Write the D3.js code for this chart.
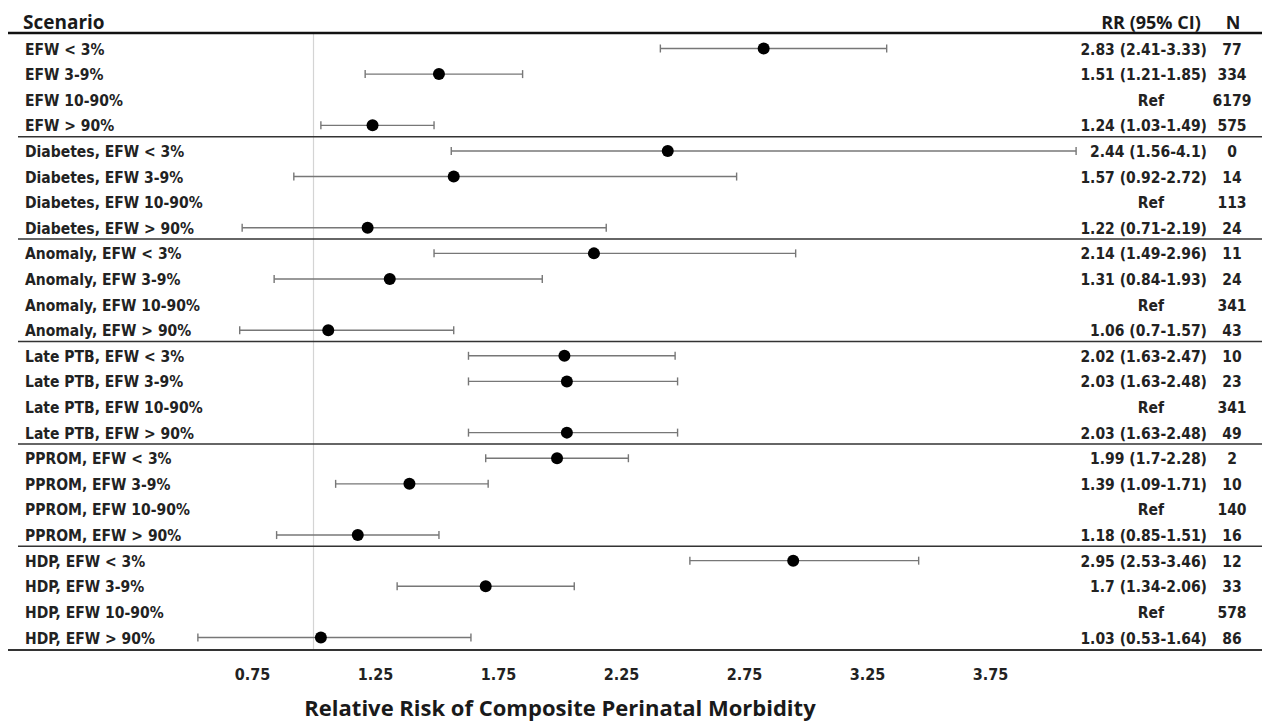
<!DOCTYPE html>
<html>
<head>
<meta charset="utf-8">
<script src="https://cdn.jsdelivr.net/npm/d3@7"></script>
<style>
  body { margin: 0; background: #fff; }
  svg text { font-family: "Liberation Sans Narrow", "DejaVu Sans Condensed", sans-serif; font-weight: bold; fill: #222; }
  svg text.title { font-family: "Open Sans", "Noto Sans", sans-serif; font-weight: bold; fill: #1a1a1a; }
</style>
</head>
<body>
<svg width="1275" height="726"></svg>
<script>
// forest plot: RR of composite perinatal morbidity by scenario
var groups = ['', 'Diabetes, ', 'Anomaly, ', 'Late PTB, ', 'PPROM, ', 'HDP, '];
var efwBands = ['EFW < 3%', 'EFW 3-9%', 'EFW 10-90%', 'EFW > 90%'];

var rr    = [2.83, 1.51, null, 1.24,  2.44, 1.57, null, 1.22,  2.14, 1.31, null, 1.06,
             2.02, 2.03, null, 2.03,  1.99, 1.39, null, 1.18,  2.95, 1.7,  null, 1.03];
var lower = [2.41, 1.21, null, 1.03,  1.56, 0.92, null, 0.71,  1.49, 0.84, null, 0.7,
             1.63, 1.63, null, 1.63,  1.7,  1.09, null, 0.85,  2.53, 1.34, null, 0.53];
var upper = [3.33, 1.85, null, 1.49,  4.1,  2.72, null, 2.19,  2.96, 1.93, null, 1.57,
             2.47, 2.48, null, 2.48,  2.28, 1.71, null, 1.51,  3.46, 2.06, null, 1.64];
var counts = [77, 334, 6179, 575,  0, 14, 113, 24,  11, 24, 341, 43,
              10, 23, 341, 49,  2, 10, 140, 16,  12, 33, 578, 86];

var xTicks = [0.75, 1.25, 1.75, 2.25, 2.75, 3.25, 3.75];

var rows = [];
groups.forEach(function(g, gi) {
  efwBands.forEach(function(b, bi) {
    var i = gi * 4 + bi;
    rows.push({
      i: i, label: g + b, rr: rr[i], lo: lower[i], hi: upper[i], n: counts[i],
      ci: rr[i] == null ? 'Ref' : rr[i] + ' (' + lower[i] + '-' + upper[i] + ')'
    });
  });
});

var svg = d3.select('svg');
var x = d3.scaleLinear().domain([0.75, 3.75]).range([252, 990]);
var y = d3.scaleLinear().domain([0, 23]).range([48.5, 637.5]);

// reference line at RR = 1
svg.append('line')
  .attr('x1', x(1)).attr('x2', x(1))
  .attr('y1', 34).attr('y2', 650)
  .style('stroke', '#d4d4d4').style('stroke-width', 1.2);

// header
svg.append('text').attr('class', 'title').attr('x', 23).attr('y', 29)
  .style('font-size', '19px').text('Scenario');
svg.append('text').attr('class', 'title').attr('x', 1151).attr('y', 29)
  .attr('text-anchor', 'middle').style('font-size', '18px').text('RR (95% CI)');
svg.append('text').attr('class', 'title').attr('x', 1233).attr('y', 29)
  .attr('text-anchor', 'middle').style('font-size', '18px').text('N');

svg.append('line').attr('x1', 8).attr('x2', 1262).attr('y1', 33).attr('y2', 33)
  .style('stroke', '#111').style('stroke-width', 2.5);

// group separators
d3.range(1, groups.length).forEach(function(g) {
  var yy = (y(g * 4 - 1) + y(g * 4)) / 2 - 1.5;
  svg.append('line').attr('x1', 18).attr('x2', 1262).attr('y1', yy).attr('y2', yy)
    .style('stroke', '#333').style('stroke-width', 1.5);
});
svg.append('line').attr('x1', 8).attr('x2', 1262).attr('y1', 650).attr('y2', 650)
  .style('stroke', '#333').style('stroke-width', 1.8);

// row labels
svg.selectAll('text.lab').data(rows).enter().append('text')
  .attr('class', 'lab')
  .attr('x', 25).attr('y', function(d) { return y(d.i) + 6; })
  .style('font-size', '15.5px')
  .text(function(d) { return d.label; });

svg.selectAll('text.ci').data(rows).enter().append('text')
  .attr('class', 'ci')
  .attr('x', function(d) { return d.rr == null ? 1151 : 1207; })
  .attr('text-anchor', function(d) { return d.rr == null ? 'middle' : 'end'; })
  .attr('y', function(d) { return y(d.i) + 6; })
  .style('font-size', '15.5px')
  .text(function(d) { return d.ci; });

svg.selectAll('text.n').data(rows).enter().append('text')
  .attr('class', 'n')
  .attr('x', 1232).attr('text-anchor', 'middle')
  .attr('y', function(d) { return y(d.i) + 6; })
  .style('font-size', '15.5px')
  .text(function(d) { return d.n; });

// error bars
var est = rows.filter(function(d) { return d.rr != null; });
var bars = svg.selectAll('g.bar').data(est).enter().append('g').attr('class', 'bar')
  .style('stroke', '#777').style('stroke-width', 1.4);
bars.append('line')
  .attr('x1', function(d) { return x(d.lo); }).attr('x2', function(d) { return x(d.hi); })
  .attr('y1', function(d) { return y(d.i); }).attr('y2', function(d) { return y(d.i); });
bars.append('line')
  .attr('x1', function(d) { return x(d.lo); }).attr('x2', function(d) { return x(d.lo); })
  .attr('y1', function(d) { return y(d.i) - 4; }).attr('y2', function(d) { return y(d.i) + 4; });
bars.append('line')
  .attr('x1', function(d) { return x(d.hi); }).attr('x2', function(d) { return x(d.hi); })
  .attr('y1', function(d) { return y(d.i) - 4; }).attr('y2', function(d) { return y(d.i) + 4; });

svg.selectAll('circle').data(est).enter().append('circle')
  .attr('cx', function(d) { return x(d.rr); })
  .attr('cy', function(d) { return y(d.i); })
  .attr('r', 6)
  .style('fill', '#000');

// x axis, labels only
var axis = svg.append('g').attr('transform', 'translate(0,666)')
  .call(d3.axisBottom(x).tickValues(xTicks).tickSize(0).tickFormat(d3.format('.2f')));
axis.select('.domain').remove();
axis.selectAll('text')
  .style('font-size', '16px')
  .style('font-family', '"Liberation Sans Narrow", "DejaVu Sans Condensed", sans-serif')
  .style('font-weight', 'bold').style('fill', '#222');

svg.append('text').attr('class', 'title')
  .attr('x', 560).attr('y', 716).attr('text-anchor', 'middle')
  .style('font-size', '22px')
  .text('Relative Risk of Composite Perinatal Morbidity');
</script>
</body>
</html>
